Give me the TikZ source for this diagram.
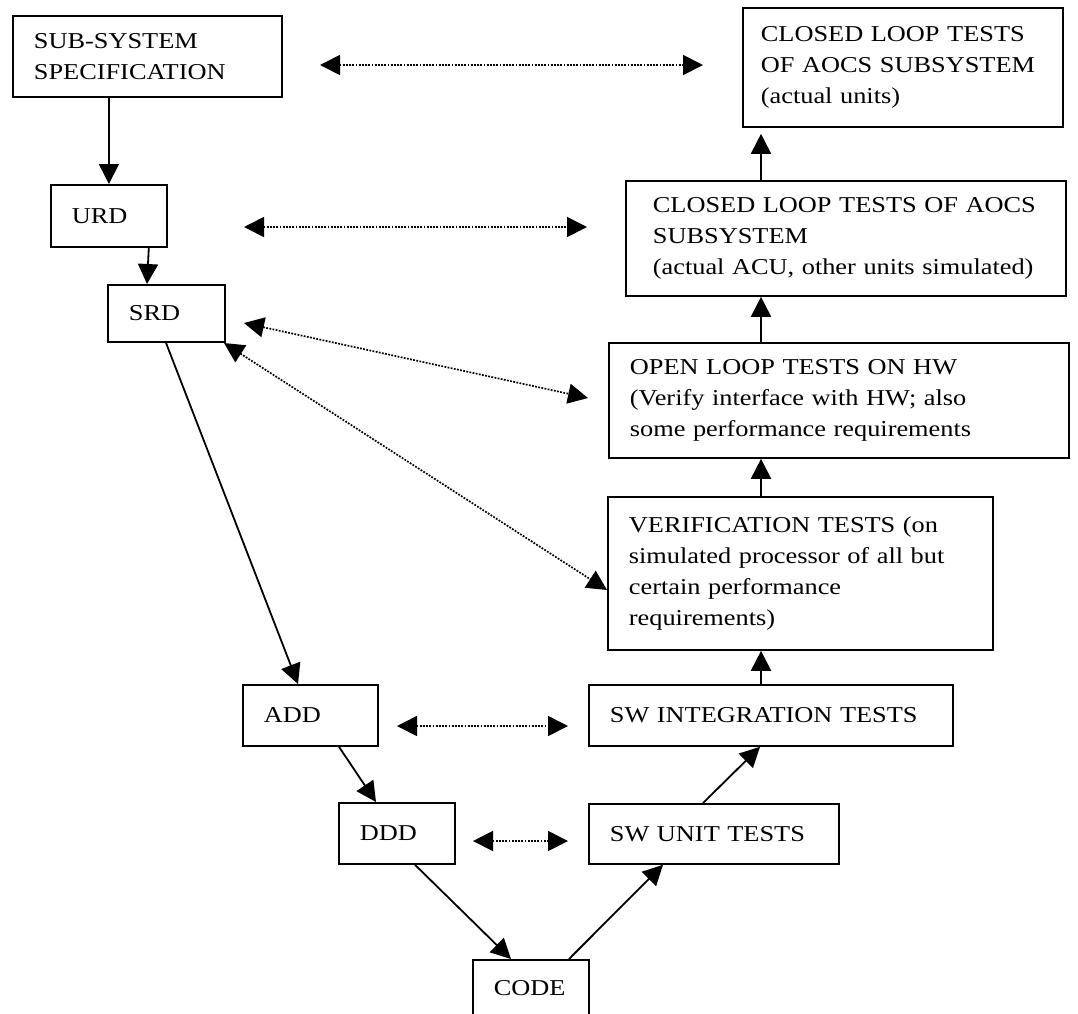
\documentclass[tikz,border=0pt]{standalone}
\usepackage{fontspec}
\setmainfont{Liberation Serif}[FakeStretch=1.16]
\usetikzlibrary{arrows.meta}

\begin{document}
\begin{tikzpicture}[x=1pt,y=-1pt,>={Triangle[length=20pt,width=20pt]},line width=1.8pt,
  stage node/.style={draw,anchor=north west,align=left,inner xsep=21pt,inner ysep=0pt,font=\fontsize{22.7}{31}\selectfont},
  trace/.style={<->,line width=1.7pt,dash pattern=on 1.8pt off 1.4pt}]

    \useasboundingbox (0,0) rectangle (1078,1013);

    % left leg of the V
    \node[stage node, text width=227pt, minimum height=81pt] (sub) at (12,15) {SUB-SYSTEM\\SPECIFICATION};
    \node[stage node, text width=74pt, minimum height=62pt] (urd) at (50,184) {URD};
    \node[stage node, text width=75pt, minimum height=57pt] (srd) at (107,284) {SRD};
    \node[stage node, text width=93pt, minimum height=61pt] (add) at (242,684) {ADD};
    \node[stage node, text width=74pt, minimum height=61pt] (ddd) at (338,802) {DDD};
    \node[stage node, text width=74pt, minimum height=56pt] (code) at (472,959) {CODE};

    % right leg of the V
    \node[stage node, text width=208pt, minimum height=60pt] (swunit) at (588,803) {SW UNIT TESTS};
    \node[stage node, text width=322pt, minimum height=61pt] (swint) at (588,684) {SW INTEGRATION TESTS};
    \node[stage node, text width=343pt, minimum height=153pt] (verif) at (607,496) {VERIFICATION TESTS (on\\simulated processor of all but\\certain performance\\requirements)};
    \node[stage node, text width=418pt, minimum height=115pt] (open) at (608,342) {OPEN LOOP TESTS ON HW\\(Verify interface with HW; also\\some performance requirements};
    \node[stage node, inner xsep=27pt, text width=386pt, minimum height=115pt] (cltsim) at (625,180) {CLOSED LOOP TESTS OF AOCS\\SUBSYSTEM\\(actual ACU, other units simulated)};
    \node[stage node, inner xsep=18pt, text width=284pt, minimum height=119pt] (cltunits) at (742,7) {CLOSED LOOP TESTS\\OF AOCS SUBSYSTEM\\(actual units)};

    \coordinate (spine) at (761,0);

    \draw[->] (urd.north |- sub.south) to (urd);
    \draw[->] ([xshift=-19pt]urd.south east) to ([xshift=40pt]srd.north west);
    \draw[->] ([xshift=59pt]srd.south west) to ([xshift=56pt]add.north west);
    \draw[->] ([xshift=97pt]add.south west) to ([xshift=38pt]ddd.north west);
    \draw[->] ([xshift=77pt]ddd.south west) to ([xshift=39pt]code.north west);
    \draw[->] ([xshift=97pt]code.north west) to ([xshift=75pt]swunit.south west);
    \draw[->] ([xshift=115pt]swunit.north west) to ([xshift=172pt]swint.south west);
    \draw[->] (swint.north -| spine) to (verif.south -| spine);
    \draw[->] (verif.north -| spine) to (open.south -| spine);
    \draw[->] (open.north -| spine) to (cltsim.south -| spine);
    \draw[->, shorten >=6pt] (cltsim.north -| spine) to (cltunits.south -| spine);

    % dotted links between the two legs
    \coordinate (s1) at (320,65);   \coordinate (e1) at (703,65);
    \coordinate (s2) at (244,227);  \coordinate (e2) at (587,227);
    \coordinate (s3) at (244,323);  \coordinate (e3) at (588,398);
    \coordinate (s4) at (224,343);  \coordinate (e4) at (607,590);
    \coordinate (s5) at (397,726);  \coordinate (e5) at (568,726);
    \coordinate (s6) at (473,841);  \coordinate (e6) at (568,841);

    \draw[trace] (s1) to (e1);
    \draw[trace] (s2) to (e2);
    \draw[trace] (s3) to (e3);
    \draw[trace] (s4) to (e4);
    \draw[trace] (s5) to (e5);
    \draw[trace] (s6) to (e6);

\end{tikzpicture}
\end{document}
